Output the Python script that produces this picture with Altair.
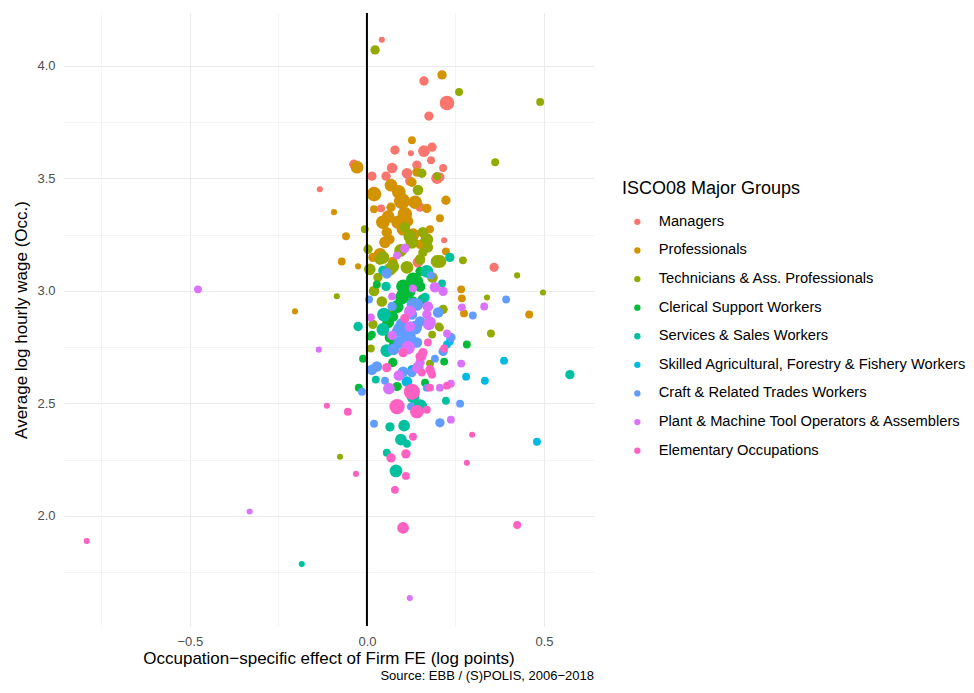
import altair as alt
import pandas as pd

GROUPS = [
    "Managers",
    "Professionals",
    "Technicians & Ass. Professionals",
    "Clerical Support Workers",
    "Services & Sales Workers",
    "Skilled Agricultural, Forestry & Fishery Workers",
    "Craft & Related Trades Workers",
    "Plant & Machine Tool Operators & Assemblers",
    "Elementary Occupations",
]
COLORS = ["#F8766D", "#D39200", "#93AA00", "#00BA38", "#00C19F",
          "#00B9E3", "#619CFF", "#DB72FB", "#FF61C3"]

X_TICKS = [-0.75, -0.5, -0.25, 0.0, 0.25, 0.5]
Y_TICKS = [1.75, 2.0, 2.25, 2.5, 2.75, 3.0, 3.25, 3.5, 3.75, 4.0]

# (occupation-specific firm FE effect, avg log hourly wage, employment weight)
managers = [
    (0.042, 4.116, 1), (0.161, 3.933, 3), (0.226, 3.835, 8), (0.175, 3.777, 3),
    (0.079, 3.626, 3), (0.124, 3.612, 1), (0.161, 3.621, 5), (0.184, 3.639, 3),
    (0.181, 3.581, 2), (0.215, 3.546, 2), (0.141, 3.559, 3), (0.071, 3.546, 4),
    (0.113, 3.523, 4), (0.014, 3.510, 3), (0.054, 3.510, 3), (0.198, 3.501, 5),
    (0.121, 3.488, 3), (-0.037, 3.563, 3), (-0.133, 3.452, 1), (0.040, 3.367, 2),
    (0.150, 3.372, 3), (0.218, 3.225, 1), (0.359, 3.105, 3), (0.144, 3.127, 4),
    (0.206, 3.506, 3),
]
professionals = [
    (0.212, 3.960, 3), (-0.028, 3.550, 6), (0.127, 3.670, 2), (0.068, 3.470, 6),
    (0.020, 3.430, 8), (0.099, 3.399, 10), (0.136, 3.394, 7), (0.141, 3.528, 3),
    (0.127, 3.483, 3), (0.223, 3.403, 3), (0.169, 3.367, 3), (0.206, 3.323, 2),
    (0.068, 3.372, 3), (0.020, 3.363, 2), (0.045, 3.305, 7), (0.088, 3.305, 7),
    (0.116, 3.310, 4), (0.056, 3.261, 4), (0.178, 3.274, 2), (-0.059, 3.243, 2),
    (-0.093, 3.350, 1), (-0.071, 3.131, 2), (-0.025, 3.109, 1), (-0.203, 2.909, 1),
    (0.065, 3.229, 3), (0.037, 3.163, 6), (0.017, 3.149, 3), (0.073, 3.131, 3),
    (0.223, 3.176, 2), (0.266, 3.007, 2), (0.268, 2.967, 2), (0.274, 2.900, 2),
    (0.458, 2.895, 2), (0.102, 3.274, 6), (0.150, 3.207, 3), (0.107, 3.341, 8),
    (0.051, 3.216, 5), (0.090, 3.440, 7), (0.130, 3.250, 6), (0.060, 3.330, 6),
]
technicians = [
    (0.023, 4.071, 3), (0.260, 3.884, 2), (0.489, 3.840, 2), (0.362, 3.572, 2),
    (0.155, 3.523, 3), (0.198, 3.510, 2), (0.144, 3.448, 4), (0.271, 3.136, 2),
    (0.424, 3.069, 1), (0.497, 2.993, 1), (0.339, 2.971, 1), (0.350, 2.811, 2),
    (0.206, 3.131, 6), (-0.006, 3.274, 2), (0.003, 3.185, 3), (0.008, 3.096, 5),
    (-0.085, 2.976, 1), (-0.076, 2.263, 1), (0.107, 3.283, 4), (0.121, 3.243, 6),
    (0.169, 3.229, 6), (0.172, 3.194, 4), (0.198, 3.131, 6), (0.150, 3.140, 4),
    (0.037, 3.140, 4), (0.065, 3.096, 6), (0.127, 3.216, 6), (0.158, 3.171, 3),
    (0.045, 3.149, 6), (0.073, 3.109, 6), (0.113, 3.105, 6), (0.031, 3.060, 3),
    (0.042, 2.953, 4), (0.045, 2.895, 3), (0.071, 2.904, 3), (0.215, 2.918, 3),
    (0.206, 2.837, 2), (0.184, 2.806, 2), (0.017, 2.851, 3), (0.011, 2.744, 2),
    (0.203, 2.842, 2), (0.178, 2.677, 2), (0.158, 3.261, 4), (0.095, 3.180, 6),
    (0.020, 3.000, 4), (0.185, 3.060, 4),
]
clerical = [
    (0.130, 3.051, 7), (0.102, 3.020, 7), (0.150, 3.020, 4), (0.102, 2.984, 6),
    (0.085, 2.931, 6), (0.073, 2.886, 4), (0.141, 3.042, 6), (0.107, 3.016, 6),
    (0.099, 2.971, 7), (0.130, 2.953, 4), (0.088, 2.927, 4), (0.158, 2.962, 4),
    (0.150, 3.087, 3), (0.028, 3.029, 2), (0.014, 2.806, 2), (0.065, 2.793, 4),
    (0.282, 2.762, 2), (0.218, 2.686, 2), (-0.011, 2.699, 2), (0.073, 2.682, 3),
    (-0.023, 2.570, 2), (0.164, 2.592, 2), (0.085, 2.575, 3), (0.079, 2.762, 5),
    (0.008, 2.797, 2), (0.118, 3.000, 7), (0.060, 2.860, 5),
]
services = [
    (0.234, 3.149, 3), (0.169, 3.087, 6), (0.045, 3.091, 3), (0.054, 3.020, 3),
    (0.212, 3.033, 2), (-0.025, 2.842, 3), (0.048, 2.895, 7), (0.164, 2.971, 3),
    (0.045, 2.829, 6), (0.056, 2.735, 6), (0.025, 2.606, 2), (0.150, 2.486, 8),
    (0.223, 2.512, 2), (0.065, 2.396, 3), (0.105, 2.401, 5), (0.096, 2.339, 5),
    (0.056, 2.281, 2), (0.082, 2.200, 6), (0.113, 2.321, 2), (-0.184, 1.786, 1),
    (0.573, 2.628, 3), (0.130, 2.530, 6),
]
agricultural = [
    (0.234, 2.775, 2), (0.387, 2.690, 2), (0.280, 2.619, 2), (0.333, 2.601, 2),
    (0.480, 2.330, 2), (0.113, 2.597, 4), (0.127, 2.650, 3), (0.226, 2.762, 2),
]
craft = [
    (0.056, 3.078, 4), (0.181, 3.069, 2), (0.006, 2.962, 2), (0.299, 2.891, 2),
    (0.393, 2.962, 2), (0.130, 2.940, 6), (0.201, 2.904, 4), (0.071, 2.931, 3),
    (0.141, 2.940, 6), (0.127, 2.895, 4), (0.099, 2.851, 6), (0.150, 2.864, 4),
    (0.113, 2.806, 7), (0.085, 2.820, 4), (0.237, 2.793, 3), (0.093, 2.829, 7),
    (0.136, 2.837, 7), (0.141, 2.771, 4), (0.028, 2.664, 4), (0.014, 2.650, 4),
    (0.051, 2.601, 2), (-0.014, 2.552, 2), (0.102, 2.641, 4), (0.127, 2.637, 3),
    (0.169, 2.570, 2), (0.192, 2.699, 2), (0.215, 2.731, 3), (0.263, 2.499, 2),
    (0.206, 2.414, 3), (0.020, 2.410, 2), (0.124, 2.486, 2), (0.093, 2.771, 6),
    (0.120, 2.790, 7), (0.075, 2.740, 5),
]
operators = [
    (-0.477, 3.007, 2), (-0.136, 2.739, 1), (-0.331, 2.020, 1), (0.121, 1.635, 1),
    (0.107, 3.189, 3), (0.085, 3.158, 2), (0.192, 3.016, 4), (0.215, 2.998, 3),
    (0.130, 3.011, 2), (0.071, 2.976, 2), (0.172, 2.931, 4), (0.121, 2.909, 5),
    (0.268, 2.927, 2), (0.331, 2.931, 2), (0.011, 2.882, 2), (0.226, 2.811, 2),
    (0.266, 2.677, 2), (0.237, 2.588, 2), (0.206, 2.570, 2), (0.237, 2.428, 2),
    (0.071, 2.802, 3), (0.116, 2.748, 7), (0.121, 2.842, 4), (0.175, 2.851, 5),
    (0.169, 2.895, 3), (0.090, 2.624, 4), (0.062, 2.566, 5), (0.181, 2.637, 2),
    (0.150, 2.682, 3), (0.144, 2.659, 5), (0.155, 2.708, 3), (0.178, 2.860, 5),
]
elementary = [
    (0.107, 2.878, 3), (0.056, 2.659, 3), (0.158, 2.726, 3), (0.178, 2.650, 3),
    (0.184, 2.628, 2), (0.127, 2.552, 10), (0.085, 2.486, 9), (0.141, 2.463, 7),
    (0.169, 2.472, 2), (0.226, 2.579, 2), (0.218, 2.744, 2), (0.172, 2.771, 2),
    (0.297, 2.361, 1), (0.130, 2.352, 2), (-0.113, 2.490, 1), (-0.054, 2.463, 2),
    (0.068, 2.258, 3), (0.110, 2.276, 3), (0.110, 2.178, 2), (0.079, 2.116, 2),
    (-0.031, 2.187, 1), (0.282, 2.236, 1), (0.102, 1.947, 5), (0.424, 1.960, 2),
    (-0.791, 1.889, 1), (0.102, 2.726, 3), (0.150, 2.708, 3), (0.155, 2.637, 2),
    (0.178, 2.570, 2),
]

SERIES = [managers, professionals, technicians, clerical, services,
          agricultural, craft, operators, elementary]

rows = []
for g, pts in zip(GROUPS, SERIES):
    for fx, w, n in pts:
        rows.append({"group": g, "firm_fe": fx, "wage": w, "emp": n})
df = pd.DataFrame(rows)

FONT = "Liberation Sans"
minor_test = "abs(datum.value*2 - round(datum.value*2)) > 0.01"

x_enc = alt.X(
    "firm_fe:Q",
    title="Occupation\u2212specific effect of Firm FE (log points)",
    scale=alt.Scale(domain=[-0.858, 0.641], nice=False, zero=False),
    axis=alt.Axis(
        values=X_TICKS,
        labelExpr=f"{minor_test} ? '' : format(datum.value, '.1f')",
        gridWidth={"condition": {"test": minor_test, "value": 0.55}, "value": 1.1},
        labelPadding=9,
        titlePadding=2,
    ),
)
y_enc = alt.Y(
    "wage:Q",
    title="Average log hourly wage (Occ.)",
    scale=alt.Scale(domain=[1.511, 4.235], nice=False, zero=False),
    axis=alt.Axis(
        values=Y_TICKS,
        labelExpr=f"{minor_test} ? '' : format(datum.value, '.1f')",
        gridWidth={"condition": {"test": minor_test, "value": 0.55}, "value": 1.1},
        labelPadding=8,
        titlePadding=6,
    ),
)

points = alt.Chart(df).mark_circle(opacity=1).encode(
    x=x_enc,
    y=y_enc,
    color=alt.Color(
        "group:N",
        scale=alt.Scale(domain=GROUPS, range=COLORS),
        legend=alt.Legend(
            title="ISCO08 Major Groups",
            orient="none",
            legendX=559,
            legendY=166.5,
            padding=0,
            titleFontSize=18,
            titleFontWeight="normal",
            titleColor="black",
            titleFont=FONT,
            titlePadding=17,
            labelFontSize=14.7,
            labelFont=FONT,
            labelColor="black",
            labelLimit=400,
            symbolType="circle",
            symbolSize=40,
            symbolOpacity=1,
            symbolStrokeWidth=0,
            symbolOffset=8,
            labelOffset=14,
            rowPadding=12.6,
        ),
    ),
    size=alt.Size("emp:Q", scale=alt.Scale(domain=[0, 10], range=[12, 262]), legend=None),
)

zero_line = alt.Chart(pd.DataFrame({"firm_fe": [0.0]})).mark_rule(
    color="black", strokeWidth=2
).encode(x="firm_fe:Q")

chart = alt.layer(points, zero_line).properties(
    width=531,
    height=613,
    autosize="none",
    background="white",
    padding={"left": 55, "top": 5, "right": 372, "bottom": 59},
    title=alt.TitleParams(
        "Source: EBB / (S)POLIS, 2006\u22122018",
        orient="bottom",
        anchor="end",
        frame="group",
        fontSize=13,
        fontWeight="normal",
        font=FONT,
        color="black",
        offset=4,
    ),
).configure_view(stroke=None).configure_axis(
    domain=False,
    ticks=False,
    gridColor="#EBEBEB",
    labelColor="#4D4D4D",
    labelFontSize=13,
    labelFont=FONT,
    titleFont=FONT,
    titleFontSize=17,
    titleFontWeight="normal",
    titleColor="black",
)

chart.save("out.html", embed_options={"renderer": "svg", "actions": False})
